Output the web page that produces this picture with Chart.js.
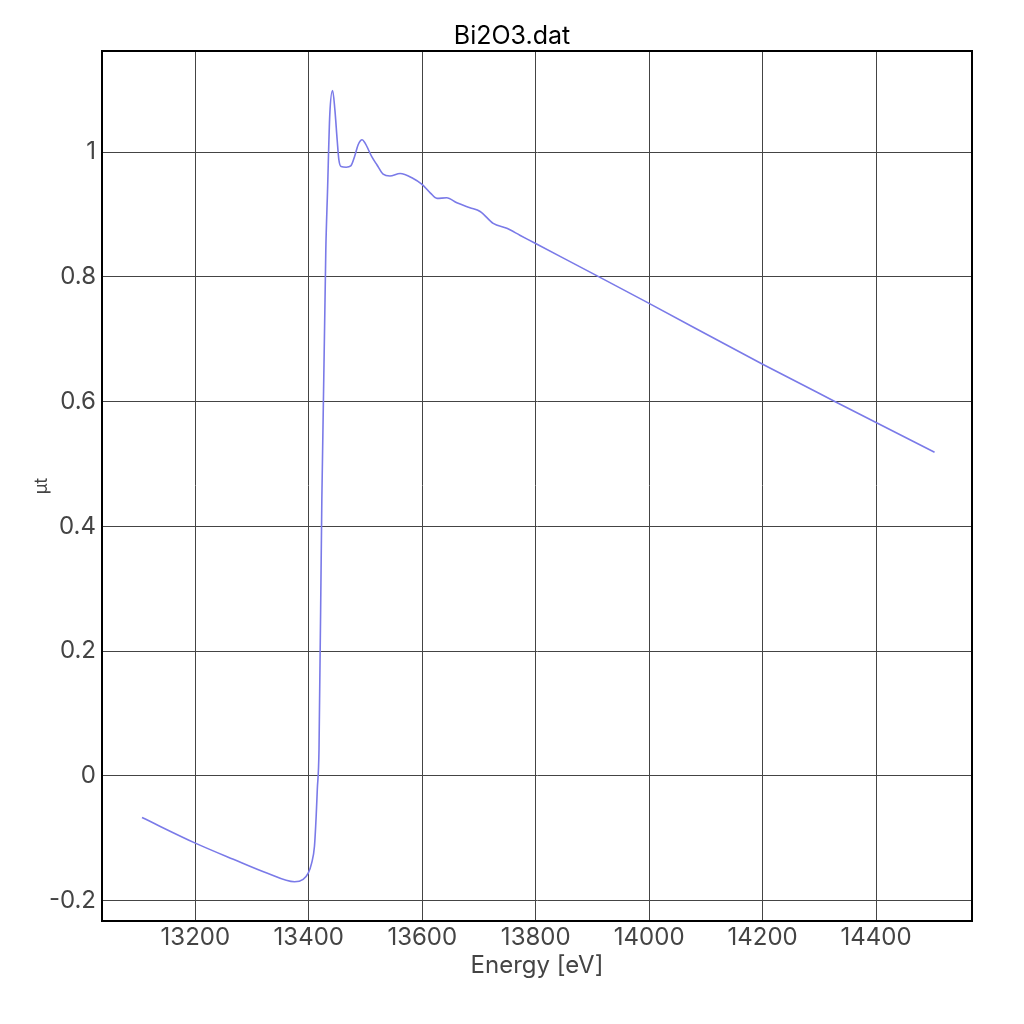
<!DOCTYPE html>
<html>
<head>
<meta charset="utf-8">
<script src="https://cdn.jsdelivr.net/npm/chart.js@4.4.1/dist/chart.umd.min.js"></script>
<style>
html,body{margin:0;padding:0;background:#fff;}
#wrap{width:1024px;height:1024px;}
</style>
</head>
<body>
<div id="wrap"><canvas id="c" width="1024" height="1024"></canvas></div>
<script>
const energies = [13106,13200,13267,13326,13375,13390,13399,13405,13410,13413,13415,13418,13423,13430,13433,13437,13442,13446,13450,13453,13457,13466,13474,13481,13487,13494,13499,13511,13520,13531,13543,13561,13584,13599,13614,13626,13643,13661,13684,13702,13725,13749,13772,13799,13910,13999,14200,14328,14399,14503];
const muT = [-0.067,-0.108,-0.134,-0.156,-0.170,-0.166,-0.156,-0.140,-0.113,-0.065,-0.022,0.042,0.443,0.843,0.937,1.060,1.099,1.068,1.020,0.988,0.977,0.976,0.978,0.994,1.012,1.020,1.015,0.993,0.980,0.965,0.962,0.966,0.958,0.949,0.935,0.926,0.927,0.919,0.911,0.905,0.886,0.878,0.867,0.854,0.801,0.758,0.660,0.600,0.567,0.519];
const xTickValues = [13200,13400,13600,13800,14000,14200,14400];
const yTickValues = [-0.2,0,0.2,0.4,0.6,0.8,1];
const chartTitle = 'Bi2O3.dat';
const xTitle = 'Energy [eV]';
const yTitle = 'µt';

const FONT = 'Inter, "Noto Sans", sans-serif';

const frame = {
  id: 'frame',
  afterDraw(chart) {
    const {ctx, chartArea: a} = chart;
    ctx.save();
    ctx.strokeStyle = '#000';
    ctx.lineWidth = 2;
    ctx.strokeRect(a.left, a.top, a.right - a.left, a.bottom - a.top);
    ctx.restore();
  }
};

new Chart(document.getElementById('c'), {
  type: 'line',
  data: {
    datasets: [{
      data: energies.map((e, i) => ({x: e, y: muT[i]})),
      borderColor: 'rgb(122,122,232)',
      borderWidth: 1.6,
      pointRadius: 0,
      fill: false,
      cubicInterpolationMode: 'monotone'
    }]
  },
  options: {
    responsive: false,
    devicePixelRatio: 1,
    animation: false,
    layout: {padding: 0},
    plugins: {
      legend: {display: false},
      tooltip: {enabled: false},
      title: {
        display: true,
        text: chartTitle,
        color: '#000',
        font: {family: FONT, size: 25, weight: 'normal', lineHeight: 1.2},
        padding: {top: 21, bottom: 0}
      }
    },
    scales: {
      x: {
        type: 'linear',
        min: 13035.5,
        max: 14569,
        afterFit(s) { s.height = 103; },
        afterBuildTicks(s) { s.ticks = xTickValues.map(v => ({value: v})); },
        grid: {color: '#444', lineWidth: 1, drawTicks: false},
        border: {color: '#000', width: 2},
        ticks: {
          color: '#444', padding: 2, maxRotation: 0, autoSkip: false,
          font: {family: FONT, size: 24},
          callback: v => String(v)
        },
        title: {
          display: true, text: xTitle, color: '#444',
          font: {family: FONT, size: 24, lineHeight: 1.2},
          padding: {top: 0, bottom: 44}
        }
      },
      y: {
        type: 'linear',
        min: -0.2329,
        max: 1.1624,
        afterFit(s) { s.width = 102; },
        afterBuildTicks(s) { s.ticks = yTickValues.map(v => ({value: v})); },
        grid: {color: '#444', lineWidth: 1, drawTicks: false},
        border: {color: '#000', width: 2},
        ticks: {
          color: '#444', padding: 6, autoSkip: false,
          font: {family: FONT, size: 24},
          callback: v => String(v)
        },
        title: {
          display: true, text: yTitle, color: '#444',
          font: {family: FONT, size: 18, lineHeight: 1.2},
          padding: {top: 31, bottom: 0}
        }
      },
      yR: {
        type: 'linear',
        position: 'right',
        display: true,
        afterFit(s) { s.width = 52; },
        grid: {display: false, drawTicks: false},
        border: {display: false},
        ticks: {display: false}
      }
    }
  },
  plugins: [frame]
});
</script>
</body>
</html>
